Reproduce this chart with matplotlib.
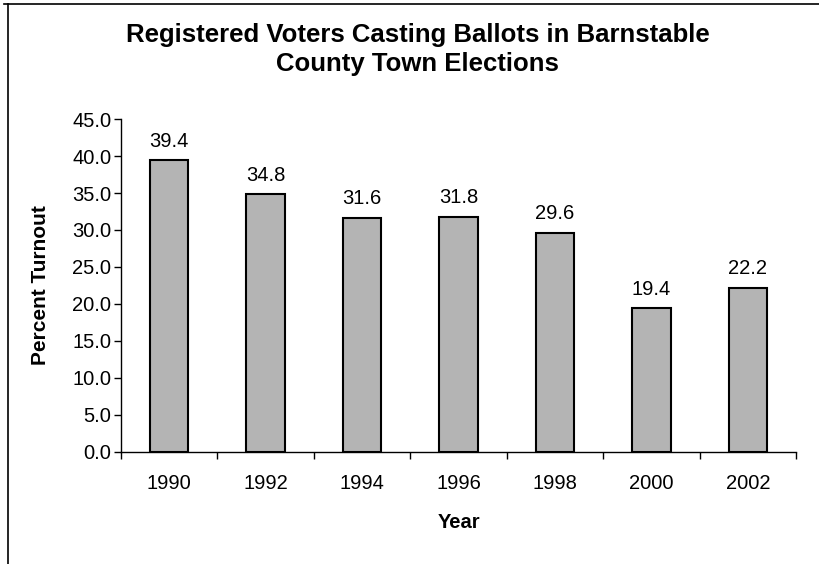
import matplotlib.pyplot as plt
from matplotlib.lines import Line2D

plt.rcParams['font.family'] = ['Liberation Sans', 'DejaVu Sans']

years = ['1990', '1992', '1994', '1996', '1998', '2000', '2002']
turnout = [39.4, 34.8, 31.6, 31.8, 29.6, 19.4, 22.2]
yticks = [0, 5, 10, 15, 20, 25, 30, 35, 40, 45]

fig = plt.figure(figsize=(8.19, 5.64), dpi=100)
ax = fig.add_axes([0.1477, 0.1986, 0.8243, 0.5904])

x = list(range(len(years)))
bars = ax.bar(x, turnout, width=0.4, color='#b4b4b4', edgecolor='black', linewidth=1.5)
for b, v in zip(bars, turnout):
    ax.annotate(f'{v:.1f}', (b.get_x() + b.get_width() / 2, v), xytext=(0, 7),
                textcoords='offset points', ha='center', va='bottom', fontsize=14.5)

ax.set_xlim(-0.5, len(years) - 0.5)
ax.set_ylim(0, 45)
ax.set_yticks(yticks)
ax.set_yticklabels([f'{t:.1f}' for t in yticks], fontsize=14.5)
ax.set_xticks(x)
ax.set_xticklabels(years, fontsize=14.5)
ax.tick_params(axis='x', length=0, pad=16)
ax.set_xticks([i - 0.5 for i in range(len(years) + 1)], minor=True)
ax.tick_params(axis='x', which='minor', length=5, direction='out', width=1)
ax.tick_params(axis='y', length=5, direction='out', width=1, pad=2)

for s in ['top', 'right']:
    ax.spines[s].set_visible(False)
for s in ['left', 'bottom']:
    ax.spines[s].set_linewidth(1)

ax.set_xlabel('Year', fontsize=14.5, fontweight='bold', labelpad=14)
ax.set_ylabel('Percent Turnout', fontsize=15, fontweight='bold', labelpad=16)

fig.suptitle('Registered Voters Casting Ballots in Barnstable\nCounty Town Elections',
             x=0.51, y=0.96, fontsize=18.5, fontweight='bold', linespacing=1.3)

# chart frame (left and top edges only visible)
fig.add_artist(Line2D([0.01, 0.01], [0.0, 0.993], color='black', lw=1.2))
fig.add_artist(Line2D([0.005, 1.0], [0.993, 0.993], color='black', lw=1.2))

fig.savefig('out.png', dpi=100)
